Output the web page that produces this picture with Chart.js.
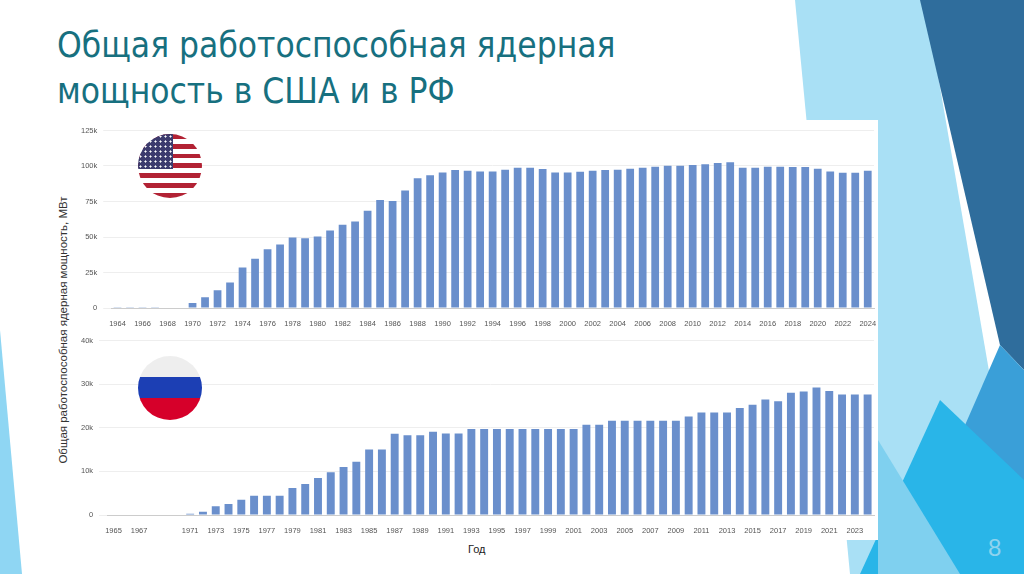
<!DOCTYPE html>
<html><head><meta charset="utf-8">
<script src="https://cdn.jsdelivr.net/npm/chart.js@4/dist/chart.umd.min.js"></script>
<style>
body{margin:0;width:1024px;height:574px;overflow:hidden;background:#fff;position:relative;font-family:'Liberation Sans',sans-serif}
#deco{position:absolute;left:0;top:0}
.title{position:absolute;left:57px;top:22px;font-family:'Liberation Sans Narrow','DejaVu Sans Condensed',sans-serif;font-size:35px;line-height:46px;color:#17707f}
.panel{position:absolute;left:95px;top:120px;width:783px;height:420px;background:#fff}
.cv{position:absolute}
.flag{position:absolute;width:64px;height:64px;border-radius:50%;overflow:hidden}
#us{left:138px;top:134px;background:repeating-linear-gradient(#b22234 0 4.9px,#fff 4.9px 9.8px)}
#canton{position:absolute;left:0;top:0;width:55%;height:54%;background:radial-gradient(circle,#fff 0.8px,transparent 1.3px) 0 0/5px 5px,#3c3b6e}
#ru{left:138px;top:356px;background:linear-gradient(#eee 0 33%,#1c3fb4 33% 66%,#d6002a 66%)}
.ylab{position:absolute;left:63px;top:330px;transform:translate(-50%,-50%) rotate(-90deg);font-size:11.5px;color:#333;white-space:nowrap}
.xlab{position:absolute;left:468px;top:543px;font-size:11px;color:#222}
.pg{position:absolute;left:988px;top:534px;font-size:24px;color:#8fd3ee}
</style></head><body>
<svg id="deco" width="1024" height="574">
<polygon points="795,0 925,0 1024,574 850,574" fill="#a9e0f5"/>
<polygon points="920,0 1024,0 1024,370 1000,345" fill="#2f6d9c"/>
<polygon points="1000,345 1024,370 1024,574 900,574" fill="#3a9fd8"/>
<polygon points="940,400 1024,480 1024,574 860,574" fill="#29b5e8"/>
<polygon points="878,440 960,574 878,574" fill="#7fd0ef"/>
<polygon points="0,330 22,574 0,574" fill="#8fd6f3"/>
</svg>
<div class="title">Общая работоспособная ядерная<br>мощность в США и в РФ</div>
<div class="panel"></div>
<canvas id="c1" class="cv" style="left:75px;top:120px;width:805px;height:211px" width="805" height="211"></canvas>
<canvas id="c2" class="cv" style="left:75px;top:330px;width:805px;height:208px" width="805" height="208"></canvas>
<div class="flag" id="us"><div id="canton"></div></div>
<div class="flag" id="ru"></div>
<div class="ylab">Общая работоспособная ядерная мощность, МВт</div>
<div class="xlab">Год</div>
<div class="pg">8</div>
<script>
const usYears=[];for(let y=1964;y<=2024;y++)usYears.push(String(y));
const usValues=[100,150,200,250,300,400,3500,7500,12500,18000,28500,34600,41400,44700,49600,49200,50400,54600,58600,61000,68500,76000,75300,82800,91300,93400,95500,97200,96700,96200,96200,97400,98800,98800,97900,95500,95500,96000,96700,97200,97400,98100,98800,99500,100200,100200,100700,101200,102100,102600,98800,98800,99500,99500,99300,99300,98100,96200,95300,95300,96700];
const ruYears=[];for(let y=1965;y<=2024;y++)ruYears.push(String(y));
const ruValues=[100,100,100,100,100,100,300,750,2000,2500,3500,4400,4400,4400,6200,7100,8500,9800,11000,12200,15000,15000,18600,18300,18300,19100,18700,18700,19700,19700,19700,19700,19700,19700,19700,19700,19700,20700,20700,21600,21600,21600,21600,21600,21600,22600,23500,23500,23500,24500,25300,26500,26100,28000,28300,29200,28400,27600,27600,27600];
const usTicks=[0,25000,50000,75000,100000,125000];
const ruTicks=[0,10000,20000,30000,40000];
const ruHidden=['1969'];
function mk(id,labels,data,max,step){
 new Chart(document.getElementById(id),{type:'bar',
  data:{labels,datasets:[{data,backgroundColor:'#6a8fcc',barPercentage:0.62,categoryPercentage:1}]},
  options:{responsive:false,animation:false,plugins:{legend:{display:false},tooltip:{enabled:false}},
   layout:{padding:{left:0,right:6,top:6,bottom:0}},
   scales:{x:{grid:{display:false},border:{color:'#ccc'},ticks:{autoSkip:false,maxRotation:0,color:'#555',font:{size:7.5},callback:(v,i)=>(i%2===0&&!ruHidden.includes(labels[i]))?labels[i]:''}},
    y:{min:0,max,ticks:{stepSize:step,color:'#555',font:{size:7.5},padding:6,callback:v=>v===0?'0':(v/1000)+'k'},grid:{color:'#eee'},border:{display:false}}}}});
}
mk('c1',usYears,usValues,125000,25000);
mk('c2',ruYears,ruValues,40000,10000);
</script>
</body></html>
